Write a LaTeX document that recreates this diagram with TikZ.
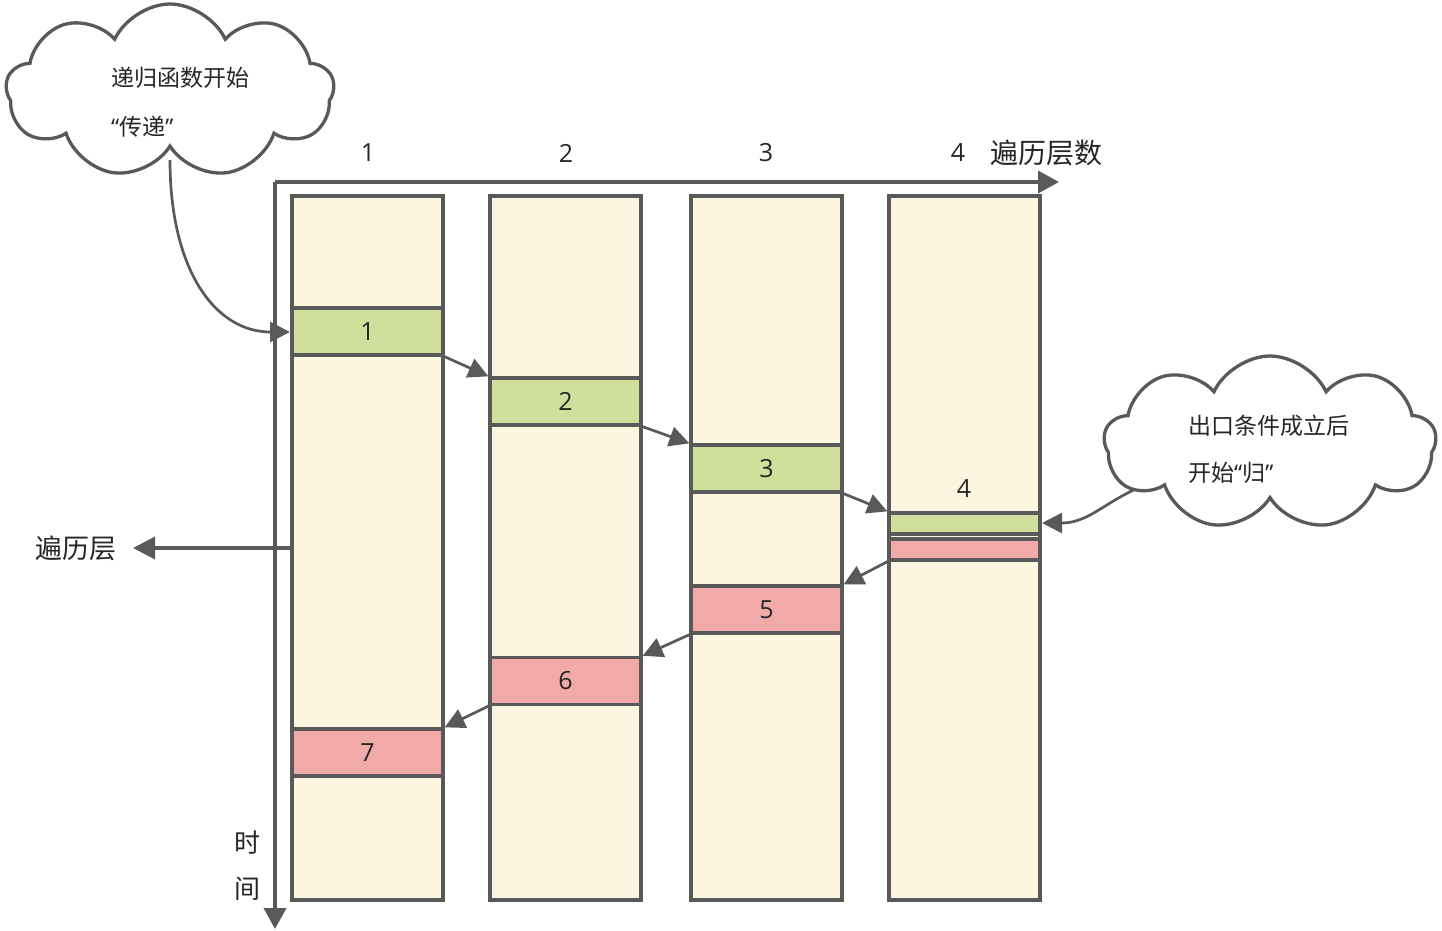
\documentclass[tikz,border=0pt]{standalone}
\usepackage{fontspec}
\setmainfont{Open Sans}
\newfontfamily\cjk{Noto Sans CJK SC}
\usetikzlibrary{arrows.meta,shapes.symbols}
\definecolor{ln}{HTML}{595959}
\definecolor{cream}{HTML}{FCF5DF}
\definecolor{gr}{HTML}{D0E09C}
\definecolor{rd}{HTML}{F2AAA8}
\begin{document}
\begin{tikzpicture}[x=1pt,y=-1pt,
  col/.style={draw=ln,line width=3.3pt,fill=cream,minimum width=151pt,minimum height=704pt,inner sep=0pt},
  gband/.style={draw=ln,line width=3.3pt,fill=gr,minimum width=151pt,minimum height=47pt,inner sep=0pt,font=\fontsize{25}{25}\selectfont,text=black!85},
  rband/.style={gband,fill=rd},
  lbl/.style={font=\fontsize{25}{25}\selectfont,text=black!85,inner sep=0pt},
  ctext/.style={font=\fontsize{23}{23}\selectfont,text=black!85,inner sep=0pt,anchor=west},
  axis/.style={draw=ln,line width=3.8pt,-{Triangle[length=21pt,width=22pt]}},
  conn/.style={draw=ln,line width=2.7pt,-{Triangle[length=20pt,width=20pt]}},
  cloudy/.style={cloud,draw=ln,line width=3.3pt,fill=white,cloud puffs=9,cloud puff arc=130,inner sep=0pt}
]
\useasboundingbox (0,0) rectangle (1442,930);
% columns
\node[col] (c1) at (367.5,548) {};
\node[col] (c2) at (565.5,548) {};
\node[col] (c3) at (766.5,548) {};
\node[col] (c4) at (964.5,548) {};
% bands
\node[gband] (b1) at (367.5,331.5) {1};
\node[gband] (b2) at (565.5,401.5) {2};
\node[gband] (b3) at (766.5,468.5) {3};
\node[gband,minimum height=21pt] (b4g) at (964.5,523.5) {};
\node[rband,minimum height=21pt] (b4r) at (964.5,549.5) {};
\node[rband] (b5) at (766.5,609.5) {5};
\node[rband] (b6) at (565.5,681) {6};
\node[rband] (b7) at (367.5,752.5) {7};
\node[lbl] (n4) at (964,489) {4};
% axes
\coordinate (o) at (275,182);
\coordinate (xe) at (1059,182);
\coordinate (ye) at (275,929);
\draw[axis] (o) -- (xe);
\draw[axis] (o) -- (ye);
\node[lbl] (h1) at (368,153) {1};
\node[lbl] (h2) at (566,153) {2};
\node[lbl] (h3) at (766,153) {3};
\node[lbl] (h4) at (958,153) {4};
\node[lbl,font=\fontsize{28}{28}\selectfont\cjk] (hx) at (1046,153) {遍历层数};
\node[lbl,font=\fontsize{26}{26}\selectfont\cjk] (t1) at (247,843) {时};
\node[lbl,font=\fontsize{26}{26}\selectfont\cjk] (t2) at (247,889) {间};
\node[lbl,font=\fontsize{27}{27}\selectfont\cjk] (lvl) at (76,548) {遍历层};
\coordinate (lvlend) at (133,548);
\draw[conn,line width=3.3pt,-{Triangle[length=22pt,width=22pt]}] (c1.west) -- (lvlend);
% flow arrows
\draw[conn] (b1.south east) -- (b2.north west);
\draw[conn] (b2.south east) -- (b3.north west);
\draw[conn] (b3.south east) -- (b4g.north west);
\draw[conn] (b4r.south west) -- (b5.north east);
\draw[conn] (b5.south west) -- (b6.north east);
\draw[conn] (b6.south west) -- (b7.north east);
% cloud connectors (drawn first; clouds cover their start)
\coordinate (s1) at (170,160);
\coordinate (a1) at (290,332);
\draw[conn] (s1) .. controls (170,270) and (215,332) .. (a1);
\coordinate (s2) at (1172,476);
\coordinate (a2) at (1042,523);
\draw[conn] (s2) .. controls (1110,492) and (1095,523) .. (a2);
% clouds
\node[cloudy,minimum width=328pt,minimum height=174pt,aspect=1.9] (cl1) at (170,91) {};
\node[ctext] (cl1a) at (111,78) {\cjk 递归函数开始};
\node[ctext] (cl1b) at (111,127) {“\cjk 传递\rmfamily ”};
\node[cloudy,minimum width=332pt,minimum height=174pt,aspect=1.9,shape border rotate=10] (cl2) at (1270,443) {};
\node[ctext] (cl2a) at (1188,426) {\cjk 出口条件成立后};
\node[ctext] (cl2b) at (1188,473) {\cjk 开始\rmfamily “\cjk 归\rmfamily ”};
\end{tikzpicture}
\end{document}
